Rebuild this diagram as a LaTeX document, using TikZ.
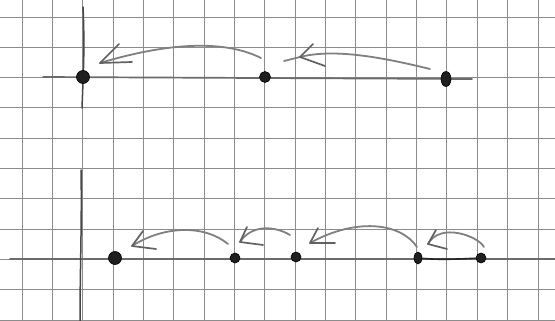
\documentclass[tikz,border=0pt]{standalone}
\usetikzlibrary{shapes.geometric}
\begin{document}
\begin{tikzpicture}[x=1pt,y=-1pt,
  gridline/.style={black!45,line width=0.9pt},
  pencil/.style={black!50,line width=1.8pt,line cap=round,line join=round},
  axisline/.style={black!58,line width=1.7pt,line cap=round},
  vaxis/.style={black!72,line width=1.5pt,line cap=round},
  barb/.style={black!62,line width=1.7pt,line cap=round,line join=round},
  bigdot/.style={circle,fill=black!88,draw=black,line width=0.6pt,inner sep=0pt,minimum size=13pt},
  smalldot/.style={circle,fill=black!88,draw=black,line width=0.6pt,inner sep=0pt,minimum size=10pt}]
\useasboundingbox (0,0) rectangle (555,321);
\fill[white] (0,0) rectangle (555,321);
% grid
\foreach \i in {0,...,17} {\draw[gridline] ({22+30.35*\i},0) -- ({22+30.35*\i},321);}
\foreach \j in {0,...,10} {\draw[gridline] (0,{17+30.3*\j}) -- (555,{17+30.3*\j});}
% ---------- top ----------
\coordinate (ta1) at (43,77);
\coordinate (ta2) at (472,79);
\coordinate (tv1) at (83,7);
\coordinate (tv2) at (82,108);
\draw[axisline] (ta1) -- (ta2);
\draw[vaxis] (tv1) .. controls (85,50) and (83,80) .. (tv2);
\node[bigdot] (p0) at (83,77) {};
\node[smalldot,minimum size=11pt] (p1) at (265,77) {};
\node[smalldot,ellipse,minimum width=10pt,minimum height=15pt] (p2) at (446,79) {};
% top arrow 1
\coordinate (s1) at (261,58);
\coordinate (t1) at (100,63);
\coordinate (b1a) at (119,44);
\coordinate (b1b) at (132,62);
\draw[pencil] (s1) .. controls (225,40) and (170,42) .. (t1);
\draw[barb] (b1a) -- (t1) -- (b1b);
% top arrow 2
\coordinate (s2) at (430,69);
\coordinate (t2) at (300,57);
\coordinate (e2) at (284,61);
\coordinate (b2a) at (313,44);
\coordinate (b2b) at (325,66);
\draw[pencil] (s2) .. controls (385,58) and (335,48) .. (t2) -- (e2);
\draw[barb] (b2a) -- (t2) -- (b2b);
% ---------- bottom ----------
\coordinate (ba1) at (10,259);
\coordinate (ba2) at (555,259);
\coordinate (bv1) at (81,170);
\coordinate (bv2) at (80,321);
\draw[axisline] (ba1) -- (ba2);
\draw[vaxis] (bv1) .. controls (82,220) and (80,270) .. (bv2);
\node[bigdot] (q0) at (115,258) {};
\node[smalldot] (q1) at (235,258) {};
\node[smalldot] (q2) at (296,257) {};
\node[smalldot,ellipse,minimum width=8pt,minimum height=12pt] (q3) at (418,258) {};
\node[smalldot] (q4) at (481,258) {};
\draw[black!85,line width=1.6pt] (q3) .. controls (440,260) and (460,259) .. (q4);
% bottom arrow A
\coordinate (sa) at (228,244);
\coordinate (ta) at (132,246);
\draw[pencil] (sa) .. controls (205,225) and (165,225) .. (ta);
\draw[barb] (143,231) coordinate (baa) -- (ta) -- (156,249) coordinate (bab);
% bottom arrow B
\coordinate (sb) at (290,235);
\coordinate (tb) at (240,242);
\draw[pencil] (sb) .. controls (275,226) and (252,224) .. (tb);
\draw[barb] (247,227) coordinate (bba) -- (tb) -- (263,245) coordinate (bbb);
% bottom arrow C
\coordinate (sc) at (417,247);
\coordinate (tc) at (310,243);
\draw[pencil] (sc) .. controls (400,222) and (355,218) .. (tc);
\draw[barb] (318,228) coordinate (bca) -- (tc) -- (335,243) coordinate (bcb);
% bottom arrow D
\coordinate (sd) at (484,247);
\coordinate (td) at (428,244);
\draw[pencil] (sd) .. controls (478,236) and (440,222) .. (td);
\draw[barb] (436,230) coordinate (bda) -- (td) -- (447,249) coordinate (bdb);
\end{tikzpicture}
\end{document}
